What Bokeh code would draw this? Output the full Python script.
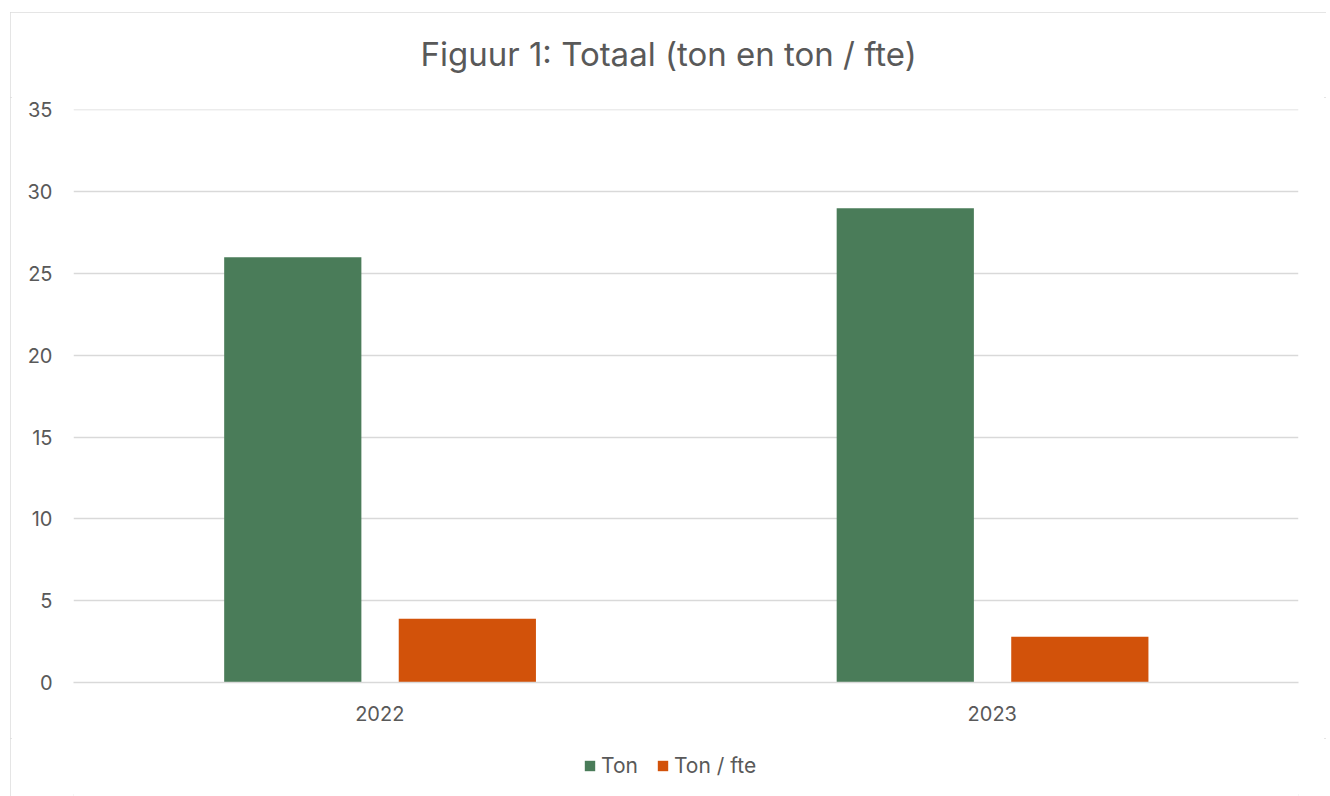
from bokeh.plotting import figure
from bokeh.layouts import column
from bokeh.models import FactorRange, Range1d, Legend, LegendItem, ColumnDataSource, SingleIntervalTicker
from bokeh.transform import dodge
from bokeh.embed import file_html
from bokeh.resources import INLINE

years = ["2022", "2023"]
ton = [26, 29]
ton_fte = [3.9, 2.8]
series_names = ["Ton", "Ton / fte"]
colors = ["#4A7C59", "#D2520A"]
title_text = "Figuur 1: Totaal (ton en ton / fte)"

FONT = "Inter"
TXT = "#595959"

src = ColumnDataSource(dict(year=years, ton=ton, fte=ton_fte))

# title strip
t = figure(width=1316, height=85, x_range=Range1d(0, 1), y_range=Range1d(0, 1),
           output_backend="svg", toolbar_location=None,
           x_axis_location=None, y_axis_location=None,
           min_border_left=63, min_border_right=28, min_border_top=0, min_border_bottom=0)
t.grid.visible = False
t.outline_line_color = None
t.title.text = title_text
t.title.align = "left"
t.title.offset = 347
t.title.vertical_align = "top"
t.title.text_font = FONT
t.title.text_font_size = "33px"
t.title.text_font_style = "normal"
t.title.text_color = TXT
t.title.standoff = 42

p = figure(x_range=FactorRange(*years), y_range=Range1d(0, 35.03),
           frame_width=1225, frame_height=573, output_backend="svg", toolbar_location=None,
           min_border_left=63, min_border_right=28, min_border_top=12, min_border_bottom=56)

r1 = p.vbar(x=dodge("year", -0.142, range=p.x_range), top="ton", width=0.224, source=src,
            fill_color=colors[0], line_color=None)
r2 = p.vbar(x=dodge("year", 0.143, range=p.x_range), top="fte", width=0.224, source=src,
            fill_color=colors[1], line_color=None)

p.outline_line_color = None
p.xgrid.grid_line_color = None
p.ygrid.grid_line_color = "#d9d9d9"
p.ygrid.grid_line_width = 1.5
p.yaxis.ticker = SingleIntervalTicker(interval=5)
p.yaxis.axis_line_color = None
p.yaxis.major_tick_line_color = None
p.yaxis.minor_tick_line_color = None
p.yaxis.major_label_standoff = 15
p.yaxis.major_label_text_font = FONT
p.yaxis.major_label_text_font_size = "20px"
p.yaxis.major_label_text_color = TXT

p.xaxis.axis_line_color = "#d9d9d9"
p.xaxis.axis_line_width = 1.5
p.xaxis.major_tick_line_color = None
p.xaxis.minor_tick_line_color = None
p.xaxis.major_label_standoff = 17
p.xaxis.major_label_text_font = FONT
p.xaxis.major_label_text_font_size = "20px"
p.xaxis.major_label_text_color = TXT

# legend strip below the chart (same series; renderers hidden, only legend shown)
q = figure(width=1316, height=58, x_range=FactorRange(*years), y_range=Range1d(0, 35),
           output_backend="svg", toolbar_location=None,
           x_axis_location=None, y_axis_location=None,
           min_border=0, min_border_left=0, min_border_right=0, min_border_top=0, min_border_bottom=0)
q.grid.visible = False
q.outline_line_color = None
q1 = q.vbar(x="year", top="ton", width=0.2, source=src, fill_color=colors[0], line_color=None)
q2 = q.vbar(x="year", top="fte", width=0.2, source=src, fill_color=colors[1], line_color=None)
q1.visible = False
q2.visible = False

legend = Legend(items=[LegendItem(label=series_names[0], renderers=[q1]),
                       LegendItem(label=series_names[1], renderers=[q2])],
                orientation="horizontal", location=(510, 18))
legend.label_text_font = FONT
legend.label_text_font_size = "21px"
legend.label_text_color = TXT
legend.glyph_width = 13
legend.glyph_height = 13
legend.label_standoff = 5
legend.spacing = 18
legend.border_line_color = None
legend.background_fill_alpha = 0
legend.inactive_fill_alpha = 0
legend.margin = 0
legend.padding = 0
q.add_layout(legend, "center")

layout = column(t, p, q, spacing=0)
layout.styles = {"outline": "2px solid #dcdcdc", "outline-offset": "-2px",
                 "margin-left": "10px", "margin-top": "12px"}

open("out.html", "w").write(file_html(layout, INLINE))
